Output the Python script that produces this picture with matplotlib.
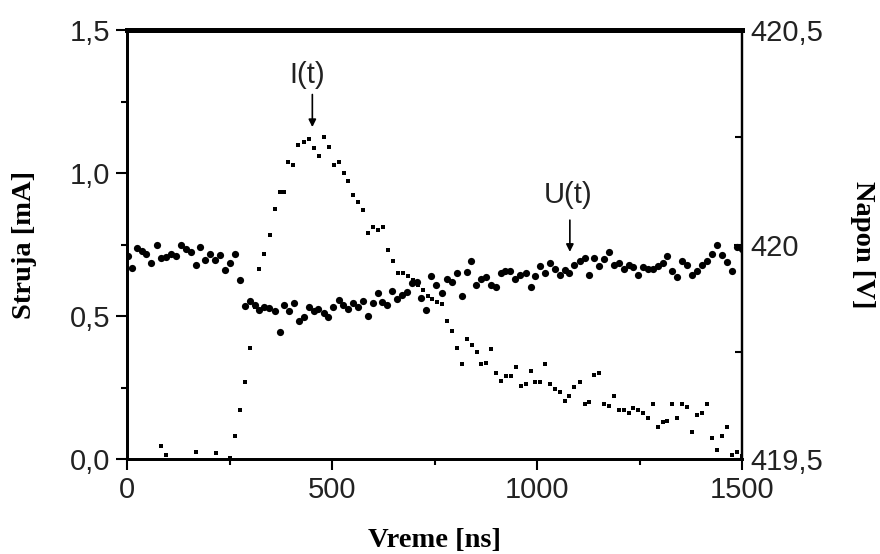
import matplotlib
matplotlib.use('Agg')
import matplotlib.pyplot as plt
from matplotlib.ticker import FuncFormatter, MultipleLocator

# struja I(t) [mA]  (tacke na nuli su skrivene ispod ose, pa su izostavljene)
t_I = [84, 96, 168, 216, 252, 264, 276, 288, 300, 312, 323, 335, 348,
       360, 373, 384, 393, 406, 418, 431, 443, 455, 468, 480, 492, 504, 516,
       528, 540, 552, 564, 576, 588, 600, 612, 624, 636, 648, 660, 672, 685,
       697, 709, 721, 733, 745, 757, 769, 780, 792, 804, 816, 829, 841, 853,
       864, 876, 888, 901, 913, 925, 936, 949, 960, 972, 984, 996, 1007, 1019,
       1032, 1044, 1055, 1068, 1079, 1091, 1104, 1116, 1127, 1139, 1151, 1163,
       1175, 1187, 1199, 1211, 1223, 1234, 1247, 1259, 1271, 1283, 1295, 1307,
       1318, 1330, 1342, 1354, 1366, 1379, 1390, 1402, 1415, 1427, 1438, 1451,
       1463, 1475, 1487, 1499]
I_vals = [0.045, 0.013, 0.024, 0.022, 0.004, 0.081, 0.171, 0.27, 0.39, 0.53, 0.663, 0.718, 0.782,
          0.873, 0.933, 0.933, 1.04, 1.03, 1.098, 1.109, 1.118, 1.088, 1.06, 1.127, 1.09, 1.03, 1.04,
          1.0, 0.971, 0.923, 0.898, 0.871, 0.789, 0.81, 0.80, 0.812, 0.731, 0.692, 0.651, 0.651, 0.64,
          0.626, 0.61, 0.59, 0.57, 0.56, 0.55, 0.542, 0.482, 0.449, 0.39, 0.331, 0.42, 0.40, 0.374,
          0.331, 0.337, 0.384, 0.302, 0.273, 0.291, 0.291, 0.323, 0.256, 0.262, 0.307, 0.27, 0.27, 0.331,
          0.262, 0.244, 0.234, 0.202, 0.221, 0.253, 0.27, 0.193, 0.198, 0.293, 0.30, 0.193,
          0.185, 0.221, 0.171, 0.171, 0.16, 0.179, 0.17, 0.16, 0.144, 0.193, 0.112, 0.13,
          0.133, 0.193, 0.142, 0.193, 0.182, 0.094, 0.154, 0.162, 0.193, 0.072, 0.033, 0.08,
          0.111, 0.014, 0.026, 0.01]

# napon U(t) [V]
t_U = [3, 13, 25, 36, 47, 59, 72, 84, 95, 107, 119, 131, 143, 155, 168, 179,
       191, 203, 215, 226, 239, 252, 264, 275, 288, 300, 311, 322, 335, 347,
       360, 372, 384, 396, 408, 419, 431, 444, 455, 467, 480, 491, 503, 516,
       527, 539, 550, 563, 575, 587, 599, 611, 623, 635, 647, 659, 671, 682,
       695, 707, 718, 730, 742, 754, 769, 781, 792, 804, 816, 828, 840, 852,
       864, 876, 887, 900, 911, 923, 935, 947, 959, 972, 984, 996, 1007, 1019,
       1032, 1044, 1055, 1068, 1079, 1091, 1104, 1116, 1127, 1139, 1151, 1163,
       1175, 1187, 1199, 1211, 1223, 1234, 1247, 1259, 1271, 1283, 1295, 1307,
       1318, 1330, 1342, 1354, 1366, 1379, 1390, 1402, 1415, 1427, 1438, 1451,
       1463, 1475, 1487, 1499]
U_vals = [419.973, 419.946, 419.991, 419.986, 419.978, 419.956, 419.998, 419.968,
          419.972, 419.978, 419.973, 419.999, 419.99, 419.983, 419.953, 419.995,
          419.964, 419.978, 419.965, 419.975, 419.941, 419.956, 419.979, 419.917,
          419.857, 419.869, 419.858, 419.847, 419.854, 419.852, 419.844, 419.797,
          419.858, 419.845, 419.864, 419.822, 419.83, 419.854, 419.844, 419.85,
          419.84, 419.83, 419.855, 419.871, 419.858, 419.849, 419.864, 419.854,
          419.869, 419.833, 419.864, 419.886, 419.866, 419.86, 419.892, 419.874,
          419.882, 419.89, 419.91, 419.913, 419.875, 419.847, 419.927, 419.906,
          419.886, 419.919, 419.913, 419.933, 419.88, 419.936, 419.962, 419.906,
          419.919, 419.925, 419.905, 419.902, 419.933, 419.938, 419.938, 419.92,
          419.928, 419.933, 419.902, 419.927, 419.95, 419.933, 419.956, 419.944,
          419.928, 419.941, 419.933, 419.953, 419.962, 419.969, 419.93, 419.969,
          419.95, 419.966, 419.983, 419.953, 419.958, 419.942, 419.953, 419.947,
          419.928, 419.948, 419.942, 419.944, 419.95, 419.956, 419.973, 419.938,
          419.924, 419.961, 419.953, 419.928, 419.939, 419.953, 419.962, 419.978,
          419.999, 419.976, 419.959, 419.938, 419.994, 419.99]

sans = ['Liberation Sans', 'DejaVu Sans']
serif = ['Liberation Serif', 'DejaVu Serif']
plt.rcParams['font.family'] = sans

fig = plt.figure(figsize=(8.8, 5.54), dpi=100)
ax = fig.add_axes([0.1443, 0.1715, 0.699, 0.774])
ax2 = ax.twinx()

ax.plot(t_I, I_vals, ls='none', marker='s', ms=3.4, color='k', mew=0)
ax2.plot(t_U, U_vals, ls='none', marker='o', ms=5.2, color='k', mew=0)

ax.set_xlim(0, 1500)
ax.set_ylim(0, 1.5)
ax2.set_ylim(419.5, 420.5)

ax.xaxis.set_major_locator(MultipleLocator(500))
ax.xaxis.set_minor_locator(MultipleLocator(250))
ax.yaxis.set_major_locator(MultipleLocator(0.5))
ax.yaxis.set_minor_locator(MultipleLocator(0.25))
ax2.yaxis.set_major_locator(MultipleLocator(0.5))
ax2.yaxis.set_minor_locator(MultipleLocator(0.25))

ax.yaxis.set_major_formatter(FuncFormatter(lambda v, p: f'{v:.1f}'.replace('.', ',')))
ax2.yaxis.set_major_formatter(FuncFormatter(lambda v, p: f'{v:g}'.replace('.', ',')))

ax.tick_params(axis='both', which='major', direction='out', length=8, width=1.5,
               labelsize=21, pad=4, labelcolor='#222222')
ax.tick_params(axis='both', which='minor', direction='out', length=4, width=1.5)
ax.tick_params(axis='x', top=False, which='both')
ax2.tick_params(axis='y', which='major', direction='in', length=6, width=1.5,
                labelsize=21, pad=6, labelcolor='#222222')
ax2.tick_params(axis='y', which='minor', direction='in', length=5, width=1.5)

for a in (ax, ax2):
    a.spines['left'].set_linewidth(2)
    a.spines['bottom'].set_linewidth(2)
    a.spines['top'].set_linewidth(3.5)
    a.spines['right'].set_linewidth(1.6)

lab = dict(family=serif, fontweight='bold', fontsize=20.5)
ax.set_xlabel('Vreme [ns]', va='center', **lab)
ax.xaxis.set_label_coords(0.5, -0.189)
ax.set_ylabel('Struja [mA]', va='center', **lab)
ax.yaxis.set_label_coords(-0.166, 0.5)
ax2.set_ylabel('Napon [V]', rotation=270, va='center', **lab)
ax2.yaxis.set_label_coords(1.195, 0.5)

arr = dict(arrowstyle='-|>', color='k', lw=1.2, mutation_scale=11, shrinkA=0, shrinkB=0)
ax.annotate('', xy=(452, 1.161), xytext=(452, 1.275), arrowprops=arr)
ax.text(440, 1.343, 'I(t)', fontsize=21, ha='center', va='center', color='#222222')
ax2.annotate('', xy=(1080, 419.983), xytext=(1080, 420.057), arrowprops=arr)
ax2.text(1075, 420.115, 'U(t)', fontsize=21, ha='center', va='center', color='#222222')

fig.savefig('out.png', dpi=100)
